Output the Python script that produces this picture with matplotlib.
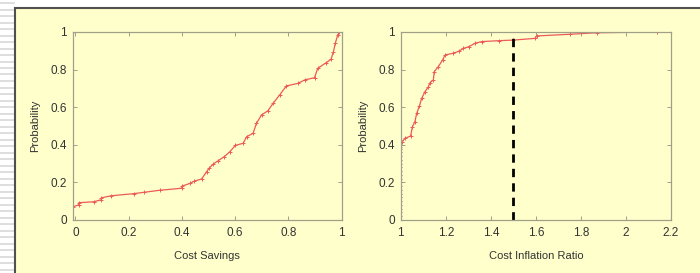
import matplotlib
matplotlib.use("Agg")
import matplotlib.pyplot as plt
import matplotlib.patches as patches
from matplotlib.lines import Line2D

plt.rcParams['font.family'] = ['Liberation Sans', 'DejaVu Sans']

# Cost savings CDF
savings_x = [-0.008, -0.008, 0.013, 0.013, 0.069, 0.098, 0.098, 0.135, 0.219,
             0.256, 0.316, 0.400, 0.400, 0.431, 0.447, 0.474, 0.493, 0.502,
             0.518, 0.537, 0.559, 0.580, 0.601, 0.630, 0.643, 0.667, 0.680,
             0.699, 0.723, 0.742, 0.767, 0.792, 0.836, 0.861, 0.898, 0.910,
             0.942, 0.960, 0.969, 0.976, 0.985, 0.991]
savings_p = [0.0, 0.071, 0.080, 0.092, 0.097, 0.108, 0.118, 0.129, 0.140,
             0.147, 0.158, 0.169, 0.180, 0.195, 0.207, 0.218, 0.257, 0.275,
             0.298, 0.316, 0.337, 0.363, 0.397, 0.408, 0.443, 0.461, 0.514,
             0.559, 0.581, 0.620, 0.665, 0.713, 0.727, 0.745, 0.757, 0.807,
             0.837, 0.855, 0.895, 0.940, 0.984, 1.0]

# Cost inflation ratio CDF
inflation_x = [0.999, 0.999, 1.007, 1.019, 1.044, 1.052, 1.063, 1.071, 1.083,
               1.093, 1.108, 1.123, 1.130, 1.145, 1.149, 1.167, 1.186, 1.197,
               1.234, 1.260, 1.278, 1.303, 1.330, 1.360, 1.438, 1.500, 1.596,
               1.604, 1.752, 1.870, 2.137]
inflation_p = [0.0, 0.390, 0.417, 0.434, 0.447, 0.496, 0.523, 0.567, 0.606,
               0.647, 0.683, 0.709, 0.730, 0.745, 0.789, 0.816, 0.851, 0.878,
               0.887, 0.899, 0.913, 0.922, 0.940, 0.949, 0.954, 0.957, 0.966,
               0.979, 0.988, 0.996, 1.0]

# many ties at ratio 1.0 (markers along the vertical segment)
tie_p = [0.02, 0.04, 0.06, 0.08, 0.10, 0.12, 0.14, 0.16, 0.18, 0.20, 0.22,
         0.24, 0.26, 0.28, 0.30, 0.32, 0.34, 0.36, 0.38]

threshold = 1.5

panel_color = '#FFFFCC'
line_color = '#EC5A5A'
frame_color = '#A0A088'
text_color = '#333333'

fig = plt.figure(figsize=(7, 2.73), dpi=100)
fig.patch.set_facecolor('white')

# striped strip on the left
for i in range(45):
    y = 1 - (3 + i * 6.5) / 273
    fig.add_artist(Line2D([0, 14 / 700], [y, y], color='#D8D8D8', lw=1.2,
                          transform=fig.transFigure, zorder=-10))
# yellow slide panel with a dark edge
fig.add_artist(patches.Rectangle((15.5 / 700, -0.05), 1.0, 1 - 7.5 / 273 + 0.05,
                                 transform=fig.transFigure, facecolor=panel_color,
                                 edgecolor='#505050', lw=1.5, zorder=-10))

ax1 = fig.add_axes([72.7 / 700, 1 - 220 / 273, 269 / 700, 188 / 273])
ax2 = fig.add_axes([400.7 / 700, 1 - 220 / 273, 270.3 / 700, 188 / 273])

ax1.plot(savings_x, savings_p, color=line_color, lw=0.9, marker='+', ms=2.5,
         mew=0.7)
ax1.set_xlim(-0.01, 1.0)
ax1.set_xticks([0, 0.2, 0.4, 0.6, 0.8, 1])
ax1.set_xticklabels(['0', '0.2', '0.4', '0.6', '0.8', '1'])
ax1.set_xlabel('Cost Savings')

ax2.plot(inflation_x, inflation_p, color=line_color, lw=0.9, marker='+', ms=2.5,
         mew=0.7)
ax2.plot([inflation_x[0]] * len(tie_p), tie_p, ls='none', marker='+', ms=2.5,
         mew=0.7, color=line_color)
ax2.plot([threshold, threshold], [0, 0.97], color='black', lw=2.0, dashes=(3, 2.2))
ax2.set_xlim(1.0, 2.2)
ax2.set_xticks([1, 1.2, 1.4, 1.6, 1.8, 2, 2.2])
ax2.set_xticklabels(['1', '1.2', '1.4', '1.6', '1.8', '2', '2.2'])
ax2.set_xlabel('Cost Inflation Ratio')

for ax in (ax1, ax2):
    ax.set_facecolor(panel_color)
    ax.set_ylim(0, 1)
    ax.set_yticks([0, 0.2, 0.4, 0.6, 0.8, 1])
    ax.set_yticklabels(['0', '0.2', '0.4', '0.6', '0.8', '1'])
    ax.set_ylabel('Probability')
    for s in ax.spines.values():
        s.set_color(frame_color)
        s.set_linewidth(0.9)
    ax.tick_params(direction='in', length=3, width=0.7, color=frame_color,
                   top=True, right=True, labelsize=8.5, labelcolor=text_color)
    ax.tick_params(axis='x', pad=5)
    ax.tick_params(axis='y', pad=4)
    ax.xaxis.label.set_size(8)
    ax.yaxis.label.set_size(8)
    ax.xaxis.label.set_color(text_color)
    ax.yaxis.label.set_color(text_color)
    ax.yaxis.set_label_coords(-0.121, 0.5)
    ax.xaxis.set_label_coords(0.5, -0.165)

fig.savefig('out.png', dpi=100)
